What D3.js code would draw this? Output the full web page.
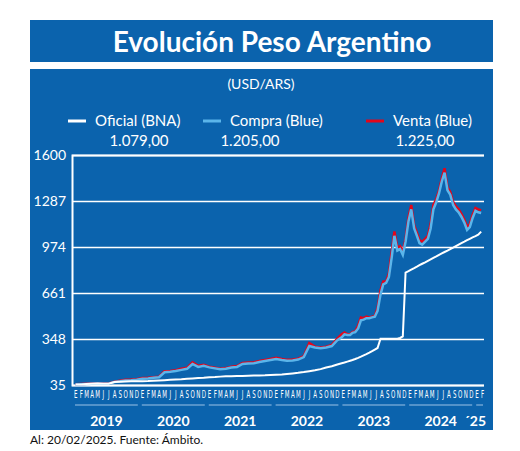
<!DOCTYPE html>
<html><head><meta charset="utf-8">
<script src="https://cdn.jsdelivr.net/npm/d3@7"></script>
<style>body{margin:0;background:#fff}svg{display:block}</style>
</head><body><svg id="chart"></svg>
<script>
// monthly 2019-2022, semi-monthly from 2023
const compraMonthly = [38,40,42,44,45,44,44,55,60,66,68,71, 78,80,84,88,122,125,130,138,145,178,158,165,
  155,148,142,145,154,158,178,181,183,192,199,205, 212,205,200,202,208,225,300,290,285,290,300,340];
const compraSemi = [360,380,375,375,390,395,420,475,480,490,490,495,500,540,650,720,730,770,900,1050,950,960,920,1010,
  1150,1230,1100,1050,1000,990,1010,1030,1100,1230,1280,1340,1420,1480,1360,1330,1260,1230,1210,1180,1140,1090,1110,1170,
  1220,1210,1205];
const ventaMonthly = [40,42,44,46,47,46,46,58,64,70,72,75, 82,84,88,92,128,131,136,145,152,190,166,172,
  160,153,146,150,160,164,185,188,190,198,205,212, 220,212,206,208,214,232,320,296,290,296,308,350];
const ventaSemi = [380,392,380,380,396,400,440,495,490,500,495,500,505,560,680,740,740,795,940,1080,970,980,940,1030,
  1175,1260,1120,1070,1020,1010,1030,1050,1130,1260,1300,1360,1440,1510,1380,1350,1280,1250,1230,1200,1160,1110,1130,1190,
  1240,1230,1225];
const oficialMonthly = [38,39,42,44,45,44,43,55,57,59,60,60, 61,62,64,66,68,70,72,74,77,80,82,84,
  87,89,92,94,95,96,97,98,99,100,101,103, 105,107,110,114,118,123,129,135,143,154,163,175];
const oficialSemi = [183,188,194,200,205,212,220,228,237,245,255,265,276,287,350,350,350,350,350,350,350,355,366,800,
  810,820,830,840,850,860,870,880,890,900,910,920,930,940,950,960,970,980,990,1000,1010,1020,1030,1040,1048,1058,1079];
const yTicks = [35,348,661,974,1287,1600];
const monthLetters = ["E","F","M","A","M","J","J","A","S","O","N","D"];
const years = ["2019","2020","2021","2022","2023","2024","´25"];
const legend = [{name:"Oficial (BNA)",color:"#ffffff",value:"1.079,00"},
  {name:"Compra (Blue)",color:"#5bb5ea",value:"1.205,00"},
  {name:"Venta (Blue)",color:"#e3061b",value:"1.225,00"}];

const W = 520, H = 451;
const svg = d3.select("#chart").attr("width", W).attr("height", H);
const blue = "#0b63ad";

function dates(nMonthly, nSemi) {
  const out = [];
  for (let i = 0; i < nMonthly; i++) out.push(new Date(2019, i, 15));
  for (let i = 0; i < nSemi; i++) out.push(new Date(2023, Math.floor(i / 2), i % 2 ? 23 : 8));
  return out;
}
const ds = dates(compraMonthly.length, compraSemi.length);
const series = arr => arr.map((v, i) => ({date: ds[i], value: v}));
const compra = series(compraMonthly.concat(compraSemi));
const venta = series(ventaMonthly.concat(ventaSemi));
const oficial = series(oficialMonthly.concat(oficialSemi));

// panels
svg.append("rect").attr("x", 30).attr("y", 20).attr("width", 463).attr("height", 42).attr("fill", blue);
svg.append("rect").attr("x", 30).attr("y", 69).attr("width", 463).attr("height", 361).attr("fill", blue);
svg.append("text").attr("x", 272).attr("y", 52).attr("text-anchor", "middle")
  .attr("font-family", "Lato").attr("font-weight", "bold").attr("font-size", 28).attr("fill", "#fff")
  .text("Evolución Peso Argentino");
svg.append("text").attr("x", 261).attr("y", 89).attr("text-anchor", "middle")
  .attr("font-family", "Lato").attr("font-size", 14).attr("fill", "#fff").text("(USD/ARS)");

const legX = [68, 203, 366], valX = [139, 250, 425];
legend.forEach((d, i) => {
  svg.append("line").attr("x1", legX[i]).attr("x2", legX[i] + 18).attr("y1", 121).attr("y2", 121)
    .attr("stroke", d.color).attr("stroke-width", 3);
  svg.append("text").attr("x", legX[i] + 27).attr("y", 126).attr("font-family", "Lato")
    .attr("font-size", 15).attr("fill", "#fff").text(d.name);
  svg.append("text").attr("x", valX[i]).attr("y", 146).attr("text-anchor", "middle").attr("font-family", "Lato")
    .attr("font-size", 15).attr("fill", "#fff").text(d.value);
});

const x = d3.scaleTime().domain([new Date(2019, 0, 1), new Date(2025, 2, 1)]).range([73, 485]);
const y = d3.scaleLinear().domain([35, 1600]).range([385, 155]);

// grid + y axis
const yAxis = svg.append("g").attr("transform", "translate(72,0)")
  .call(d3.axisLeft(y).tickValues(yTicks).tickFormat(d3.format("d")).tickSize(-412).tickPadding(6));
yAxis.select(".domain").attr("stroke", "#fff").attr("stroke-width", 2);
yAxis.selectAll(".tick line").attr("stroke", "#fff").attr("stroke-width", 1.5);
yAxis.selectAll(".tick text").attr("fill", "#fff").attr("font-family", "Lato").attr("font-size", 14);

const line = d3.line().x(d => x(d.date)).y(d => y(d.value));
svg.append("path").datum(venta).attr("d", line).attr("fill", "none").attr("stroke", "#e3061b").attr("stroke-width", 2.5);
svg.append("path").datum(compra).attr("d", line).attr("fill", "none").attr("stroke", "#5bb5ea").attr("stroke-width", 2.5);
svg.append("path").datum(oficial).attr("d", line).attr("fill", "none").attr("stroke", "#fff").attr("stroke-width", 2);

// month letters
const months = d3.timeMonth.range(new Date(2019, 0, 1), new Date(2025, 2, 1));
svg.append("g").selectAll("text").data(months).join("text")
  .attr("transform", d => `translate(${x(d3.timeDay.offset(d, 15))},398) scale(0.5,1)`)
  .attr("text-anchor", "middle").attr("font-family", "DejaVu Sans").attr("font-size", 11).attr("fill", "#fff")
  .text(d => monthLetters[d.getMonth()]);

// year underlines + labels
years.forEach((label, i) => {
  const a = new Date(2019 + i, 0, 1), b = i < 6 ? new Date(2020 + i, 0, 1) : new Date(2025, 2, 1);
  svg.append("line").attr("x1", x(a) + 2).attr("x2", x(b) - 2).attr("y1", 405).attr("y2", 405)
    .attr("stroke", "#9cc3e6").attr("stroke-width", 1);
  svg.append("text").attr("x", i < 6 ? (x(a) + x(b)) / 2 : 486).attr("y", 426)
    .attr("text-anchor", i < 6 ? "middle" : "end").attr("font-family", "Lato").attr("font-weight", "bold")
    .attr("font-size", 14).attr("fill", "#fff").text(label);
});

svg.append("text").attr("x", 30).attr("y", 444).attr("font-family", "Lato").attr("font-size", 12)
  .attr("fill", "#111").text("Al: 20/02/2025. Fuente: Ámbito.");
</script></body></html>
